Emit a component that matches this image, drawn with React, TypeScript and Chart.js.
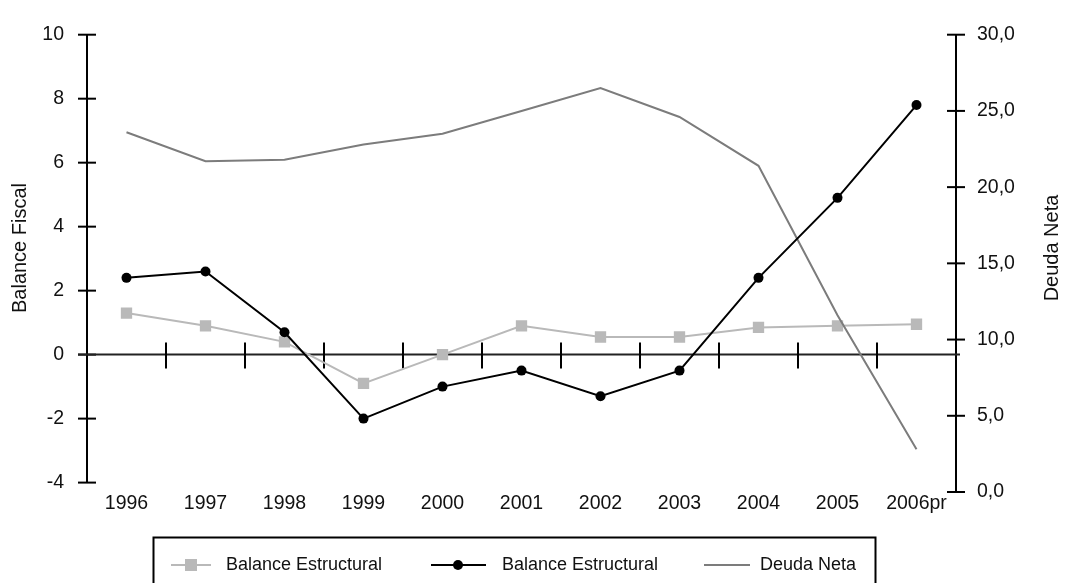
import React, { useEffect, useRef } from "react";
import { Chart, registerables } from "chart.js";

Chart.register(...registerables);

const categories = ["1996", "1997", "1998", "1999", "2000", "2001", "2002", "2003", "2004", "2005", "2006pr"];
const balanceEstructural = [1.3, 0.9, 0.4, -0.9, 0.0, 0.9, 0.55, 0.55, 0.85, 0.9, 0.95];
const balanceEfectivo = [2.4, 2.6, 0.7, -2.0, -1.0, -0.5, -1.3, -0.5, 2.4, 4.9, 7.8];
const deudaNeta = [23.6, 21.7, 21.8, 22.8, 23.5, 25.0, 26.5, 24.6, 21.4, 11.6, 2.8];
const leftTicks = [-4, -2, 0, 2, 4, 6, 8, 10];
const rightTicks = [0, 5, 10, 15, 20, 25, 30];
const seriesLabels = ["Balance Estructural", "Balance Estructural", "Deuda Neta"];
const leftTitle = "Balance Fiscal";
const rightTitle = "Deuda Neta";

const FONT = "'Liberation Sans', Arial, sans-serif";
const GRAY_SQ = "#b9b9b9";
const BLACK = "#000000";
const GRAY_LINE = "#7c7c7c";
const TEXT = "#111111";
const TICK_SIZE = 19.5;

const decor = {
  id: "decor",
  beforeDatasetsDraw(chart: any) {
    const ctx = chart.ctx;
    const x = chart.scales.x;
    const y = chart.scales.y;
    const y1 = chart.scales.y1;
    const area = chart.chartArea;
    ctx.save();
    ctx.strokeStyle = "#000";
    ctx.lineWidth = 2;
    ctx.lineCap = "butt";
    // left axis
    ctx.beginPath();
    ctx.moveTo(area.left, y.getPixelForValue(leftTicks[leftTicks.length - 1]));
    ctx.lineTo(area.left, y.getPixelForValue(leftTicks[0]));
    ctx.stroke();
    leftTicks.forEach((v) => {
      const py = y.getPixelForValue(v);
      ctx.beginPath();
      ctx.moveTo(area.left - 9, py);
      ctx.lineTo(area.left + 9, py);
      ctx.stroke();
    });
    // right axis
    ctx.beginPath();
    ctx.moveTo(area.right, y1.getPixelForValue(rightTicks[rightTicks.length - 1]));
    ctx.lineTo(area.right, y1.getPixelForValue(rightTicks[0]));
    ctx.stroke();
    rightTicks.forEach((v) => {
      const py = y1.getPixelForValue(v);
      ctx.beginPath();
      ctx.moveTo(area.right - 9, py);
      ctx.lineTo(area.right + 9, py);
      ctx.stroke();
    });
    // zero line
    const y0 = y.getPixelForValue(0);
    ctx.strokeStyle = "#222";
    ctx.beginPath();
    ctx.moveTo(area.left - 9, y0);
    ctx.lineTo(area.right + 4, y0);
    ctx.stroke();
    ctx.strokeStyle = "#000";
    for (let i = 1; i < categories.length; i++) {
      const px = (x.getPixelForValue(i - 1) + x.getPixelForValue(i)) / 2;
      ctx.beginPath();
      ctx.moveTo(px, y0 - 12);
      ctx.lineTo(px, y0 + 14);
      ctx.stroke();
    }
    ctx.restore();
  },
  afterDraw(chart: any) {
    const ctx = chart.ctx;
    ctx.save();
    // axis titles
    ctx.fillStyle = TEXT;
    ctx.font = `20px ${FONT}`;
    ctx.textAlign = "center";
    ctx.textBaseline = "middle";
    const cy = 248;
    ctx.save();
    ctx.translate(20, cy);
    ctx.rotate(-Math.PI / 2);
    ctx.fillText(leftTitle, 0, 0);
    ctx.restore();
    ctx.save();
    ctx.translate(1052, cy);
    ctx.rotate(-Math.PI / 2);
    ctx.fillText(rightTitle, 0, 0);
    ctx.restore();

    // legend
    ctx.strokeStyle = "#000";
    ctx.lineWidth = 2;
    ctx.strokeRect(153.5, 537.5, 722, 70);
    const ly = 565;
    ctx.font = `18px ${FONT}`;
    ctx.textAlign = "left";
    ctx.textBaseline = "middle";
    // item 1
    ctx.strokeStyle = GRAY_SQ;
    ctx.beginPath();
    ctx.moveTo(171, ly);
    ctx.lineTo(211, ly);
    ctx.stroke();
    ctx.fillStyle = GRAY_SQ;
    ctx.fillRect(191 - 6, ly - 6, 12, 12);
    ctx.fillStyle = TEXT;
    ctx.fillText(seriesLabels[0], 226, ly);
    // item 2
    ctx.strokeStyle = BLACK;
    ctx.beginPath();
    ctx.moveTo(431, ly);
    ctx.lineTo(486, ly);
    ctx.stroke();
    ctx.fillStyle = BLACK;
    ctx.beginPath();
    ctx.arc(458, ly, 5, 0, Math.PI * 2);
    ctx.fill();
    ctx.fillStyle = TEXT;
    ctx.fillText(seriesLabels[1], 502, ly);
    // item 3
    ctx.strokeStyle = GRAY_LINE;
    ctx.beginPath();
    ctx.moveTo(704, ly);
    ctx.lineTo(750, ly);
    ctx.stroke();
    ctx.fillStyle = TEXT;
    ctx.fillText(seriesLabels[2], 760, ly);
    ctx.restore();
  },
};

export default function App() {
  const ref = useRef<HTMLCanvasElement | null>(null);
  useEffect(() => {
    if (!ref.current) return;
    Chart.defaults.font.family = FONT;
    const chart = new Chart(ref.current, {
      type: "line",
      data: {
        labels: categories,
        datasets: [
          {
            label: seriesLabels[1],
            data: balanceEfectivo,
            yAxisID: "y",
            borderColor: BLACK,
            backgroundColor: BLACK,
            borderWidth: 2,
            pointStyle: "circle",
            pointRadius: 5,
            pointBorderWidth: 0,
            order: 0,
          },
          {
            label: seriesLabels[2],
            data: deudaNeta,
            yAxisID: "y1",
            borderColor: GRAY_LINE,
            backgroundColor: GRAY_LINE,
            borderWidth: 2,
            pointRadius: 0,
            order: 1,
          },
          {
            label: seriesLabels[0],
            data: balanceEstructural,
            yAxisID: "y",
            borderColor: GRAY_SQ,
            backgroundColor: GRAY_SQ,
            borderWidth: 2,
            pointStyle: "rect",
            pointRadius: 8,
            pointBorderWidth: 0,
            order: 2,
          },
        ],
      },
      options: {
        animation: false,
        responsive: false,
        layout: { padding: { top: 21, left: 0, right: 0, bottom: 0 } },
        plugins: { legend: { display: false }, tooltip: { enabled: false } },
        scales: {
          x: {
            type: "category",
            offset: true,
            grid: { display: false, drawTicks: false },
            border: { display: false },
            ticks: { font: { size: TICK_SIZE, family: FONT }, color: TEXT, padding: 0, maxRotation: 0, autoSkip: false },
            afterFit: (s: any) => {
              s.height = 91;
            },
          },
          y: {
            position: "left",
            min: -4.294,
            max: 10,
            grid: { display: false, drawTicks: false },
            border: { display: false },
            afterBuildTicks: (s: any) => {
              s.ticks = leftTicks.map((v) => ({ value: v }));
            },
            ticks: { font: { size: TICK_SIZE, family: FONT }, color: TEXT, padding: 23 },
            afterFit: (s: any) => {
              s.width = 87;
            },
          },
          y1: {
            position: "right",
            min: 0,
            max: 30,
            grid: { display: false, drawTicks: false },
            border: { display: false },
            afterBuildTicks: (s: any) => {
              s.ticks = rightTicks.map((v) => ({ value: v }));
            },
            ticks: {
              font: { size: TICK_SIZE, family: FONT },
              color: TEXT,
              padding: 21,
              callback: (v: any) => Number(v).toFixed(1).replace(".", ","),
            },
            afterFit: (s: any) => {
              s.width = 114;
            },
          },
        },
      },
      plugins: [decor],
    });
    return () => chart.destroy();
  }, []);
  return (
    <div style={{ position: "absolute", left: 0, top: 0, width: 1070, height: 583, overflow: "hidden", background: "#fff" }}>
      <canvas ref={ref} width={1070} height={583} style={{ display: "block" }} />
    </div>
  );
}
